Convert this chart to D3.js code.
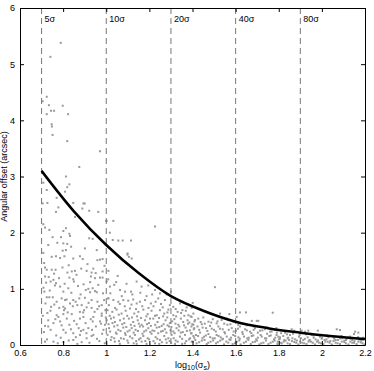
<!DOCTYPE html>
<html>
<head>
<meta charset="utf-8">
<script src="https://cdn.jsdelivr.net/npm/d3@7"></script>
<style>
  body { margin: 0; background: #fff; }
  text { font-family: "Liberation Sans", Arial, sans-serif; }
</style>
</head>
<body>
<div id="chart"></div>
<script>
// Significance markers (log10 sigma) and their labels
const sigmaLines = [0.7, 1.0, 1.3, 1.6, 1.9];
const sigmaLabels = ["5σ", "10σ", "20σ", "40σ", "80σ"];

// Ticks
const xTicks = [0.6, 0.8, 1, 1.2, 1.4, 1.6, 1.8, 2, 2.2];
const yTicks = [0, 1, 2, 3, 4, 5, 6];

// Fitted curve
const curveX = [0.7, 0.85, 1.0, 1.15, 1.3, 1.45, 1.6, 1.75, 1.9, 2.05, 2.2];
const curveY = [3.10, 2.38, 1.78, 1.28, 0.87, 0.61, 0.415, 0.30, 0.22, 0.155, 0.107];

// Scatter: high offset points and outliers
const ptsHigh = [
  [0.789,5.38],[0.741,5.13],[0.724,4.42],[0.705,4.34],[0.734,4.27],[0.798,4.26],[0.744,4.17],
  [0.758,4.17],[0.724,4.11],[0.823,4.11],[0.747,3.93],[0.748,3.89],[0.751,3.74],[0.819,3.63],
  [0.971,3.45],[0.875,3.17],[0.813,3.0],[0.708,2.89],[0.829,2.86],[0.819,2.81],[0.724,2.76],
  [0.809,2.73],[0.770,2.62],[0.705,2.52],[0.727,2.53],[0.847,2.53],[0.894,2.52],[0.90,2.52],
  [0.778,2.45],[0.889,2.43],[0.767,2.37],[0.921,2.39],[0.963,2.37],[0.855,2.28],[1.002,2.21],
  [1.033,2.21],[0.708,2.15],[0.716,2.09],[0.736,2.05],[0.813,2.08],[0.801,2.03],[0.829,1.98],
  [0.832,1.94],[0.790,1.92],[0.751,1.92],[0.921,1.90],[0.937,1.89],[1.017,2.0],[1.03,1.87],
  [1.076,1.86],[1.115,1.86],[0.773,1.82],[0.731,1.78],[0.801,1.81],[0.819,1.80],[0.837,1.75],
  [0.901,1.72],[0.956,1.69],[0.708,1.64],[0.813,1.69],[0.798,1.68],[1.098,1.61],[1.118,1.54],
  [0.999,2.21],[1.226,2.11],[1.056,1.86],[1.099,1.63],[1.105,1.57],[1.053,1.23],[1.009,1.17],
  [1.504,1.03],[1.401,0.75],[1.528,0.56],[1.571,0.55],[1.620,0.58],[1.648,0.58],[1.772,0.575],
  [1.675,0.43],[1.698,0.43],[1.705,0.43]
];

// Scatter: 5 to 10 sigma
const ptsA = [
  [0.747,1.57],[0.767,1.58],[0.786,1.55],[0.806,1.58],[0.847,1.54],[0.878,1.58],[0.891,1.53],
  [0.959,1.51],[0.971,1.52],[0.983,1.53],[0.716,1.38],[0.724,1.34],[0.747,1.34],[0.765,1.34],
  [0.820,1.29],[0.840,1.31],[0.855,1.32],[0.909,1.32],[0.932,1.29],[0.940,1.36],[0.983,1.31],
  [1.010,1.32],[0.716,1.22],[0.755,1.16],[0.829,1.20],[0.847,1.17],[0.929,1.22],[0.948,1.19],
  [0.971,1.20],[0.983,1.20],[0.742,1.13],[0.721,1.11],[0.767,1.10],[0.850,1.13],[0.925,1.12],
  [0.786,1.04],[0.824,1.01],[0.917,1.00],[0.937,1.01],[0.948,0.96],[0.905,0.98],[0.801,0.95],
  [0.881,0.90],[0.925,0.94],[0.956,0.94],[0.713,0.95],[0.724,0.85],[0.736,0.85],[0.752,0.85],
  [0.793,0.83],[0.809,0.80],[0.816,0.81],[0.847,0.80],[0.875,0.83],[0.901,0.84],[0.932,0.80],
  [0.959,0.77],[0.990,0.80],[1.010,0.83],[0.770,0.77],[0.832,0.74],[0.886,0.71],[0.979,0.71],
  [0.744,0.68],[0.801,0.68],[0.809,0.65],[0.866,0.71],[0.909,0.67],[0.932,0.66],[0.959,0.64],
  [0.878,0.59],[0.897,0.62],[0.979,0.56],[0.804,0.62],[0.770,0.53],[0.801,0.55],[0.840,0.55],
  [0.894,0.50],[0.940,0.50],[0.979,0.52],[0.731,0.44],[0.786,0.42],[0.878,0.47],[0.971,0.42],
  [0.778,0.50],[0.755,0.39],[0.863,0.37],[0.937,0.42],[0.994,0.36],[0.829,0.36],[0.716,0.34],
  [0.731,0.33],[0.847,0.21],[0.894,0.27],[0.917,0.30],[0.940,0.18],[0.878,0.18],[0.801,0.27],
  [0.987,0.27],[0.716,0.06],[0.755,0.06],[0.801,0.05],[0.847,0.09],[0.886,0.05],[0.909,0.12],
  [0.932,0.16],
  [0.712,1.46],[0.733,1.21],[0.758,1.27],[0.781,1.19],[0.797,1.38],[0.826,1.42],[0.862,1.25],
  [0.884,1.36],[0.913,1.44],[0.951,1.28],[0.992,1.41],[0.709,1.02],[0.738,0.97],[0.762,1.06],
  [0.807,1.09],[0.838,0.93],[0.869,1.05],[0.895,1.08],[0.963,1.07],[0.985,0.92],[0.718,0.74],
  [0.741,0.61],[0.759,0.72],[0.782,0.66],[0.821,0.58],[0.845,0.69],[0.858,0.77],[0.893,0.58],
  [0.918,0.75],[0.946,0.59],[0.967,0.69],[0.996,0.62],[0.706,0.52],[0.727,0.57],[0.764,0.46],
  [0.793,0.35],[0.817,0.47],[0.851,0.43],[0.872,0.30],[0.904,0.39],[0.928,0.46],[0.952,0.33],
  [0.976,0.38],[0.998,0.49],[0.711,0.23],[0.742,0.27],[0.768,0.17],[0.789,0.13],[0.812,0.22],
  [0.836,0.28],[0.859,0.14],[0.883,0.25],[0.908,0.21],[0.934,0.27],[0.957,0.11],[0.981,0.20],
  [0.725,0.10],[0.775,0.03],[0.826,0.08],[0.866,0.02],[0.922,0.04],[0.968,0.07],[0.993,0.03]
];

// Scatter: 10 to 25 sigma
const ptsB = [
  [1.002,1.13],[1.017,1.04],[1.037,1.07],[1.064,0.98],[1.087,0.95],[1.115,0.95],[1.141,1.13],
  [1.164,1.04],[1.195,1.06],[1.226,0.98],[1.249,0.92],[1.28,0.90],[1.30,0.95],
  [1.009,0.83],[1.033,0.80],[1.056,0.77],[1.079,0.80],[1.102,0.79],[1.125,0.81],[1.141,0.74],
  [1.156,0.77],[1.180,0.80],[1.207,0.74],[1.229,0.77],[1.254,0.73],[1.272,0.80],[1.295,0.71],
  [1.311,0.68],[1.342,0.74],[1.373,0.67],[1.396,0.66],
  [1.006,0.62],[1.028,0.59],[1.048,0.63],[1.071,0.56],[1.090,0.61],[1.110,0.65],[1.130,0.56],
  [1.149,0.59],[1.172,0.63],[1.192,0.55],[1.210,0.61],[1.234,0.53],[1.249,0.62],[1.269,0.56],
  [1.288,0.63],[1.311,0.53],[1.331,0.59],[1.353,0.62],[1.381,0.53],[1.404,0.56],
  [1.002,0.44],[1.022,0.47],[1.040,0.41],[1.064,0.44],[1.084,0.39],[1.105,0.47],[1.125,0.41],
  [1.146,0.44],[1.164,0.36],[1.180,0.44],[1.198,0.39],[1.218,0.47],[1.238,0.41],[1.257,0.34],
  [1.275,0.44],[1.295,0.39],[1.316,0.46],[1.334,0.36],[1.357,0.41],[1.377,0.44],[1.399,0.37],
  [1.013,0.30],[1.037,0.33],[1.056,0.27],[1.079,0.31],[1.099,0.24],[1.118,0.30],[1.136,0.27],
  [1.156,0.33],[1.176,0.24],[1.195,0.30],[1.214,0.26],[1.234,0.31],[1.254,0.24],[1.272,0.28],
  [1.291,0.33],[1.311,0.24],[1.326,0.30],[1.346,0.22],[1.368,0.31],[1.388,0.26],[1.408,0.30],
  [1.006,0.18],[1.025,0.14],[1.048,0.20],[1.068,0.12],[1.090,0.18],[1.110,0.15],[1.133,0.18],
  [1.152,0.10],[1.172,0.16],[1.192,0.12],[1.210,0.20],[1.229,0.14],[1.249,0.09],[1.269,0.16],
  [1.288,0.12],[1.303,0.18],[1.322,0.08],[1.342,0.15],[1.365,0.18],[1.384,0.10],[1.404,0.16],
  [1.040,0.06],[1.102,0.04],[1.141,0.02],[1.164,0.06],[1.226,0.03],[1.280,0.04],[1.319,0.02],
  [1.365,0.03],[1.396,0.06],
  [1.019,0.92],[1.046,1.12],[1.072,0.87],[1.094,1.09],[1.121,0.90],[1.158,0.93],[1.187,0.87],
  [1.213,0.90],[1.241,0.83],[1.012,0.71],[1.041,0.66],[1.063,0.73],[1.086,0.69],[1.117,0.72],
  [1.138,0.64],[1.167,0.69],[1.196,0.66],[1.219,0.69],[1.262,0.67],[1.284,0.58],[1.322,0.64],
  [1.347,0.57],[1.369,0.61],[1.391,0.51],[1.016,0.52],[1.035,0.49],[1.058,0.54],[1.081,0.47],
  [1.097,0.52],[1.119,0.49],[1.143,0.51],[1.161,0.48],[1.186,0.51],[1.203,0.47],[1.226,0.52],
  [1.245,0.48],[1.264,0.51],[1.283,0.49],[1.306,0.42],[1.324,0.51],[1.346,0.47],[1.362,0.52],
  [1.386,0.40],[1.011,0.37],[1.029,0.39],[1.052,0.35],[1.074,0.37],[1.093,0.32],[1.114,0.36],
  [1.131,0.34],[1.151,0.38],[1.171,0.33],[1.189,0.37],[1.207,0.34],[1.227,0.36],[1.246,0.32],
  [1.266,0.37],[1.284,0.35],[1.302,0.32],[1.321,0.38],[1.339,0.33],[1.361,0.35],[1.379,0.38],
  [1.395,0.33],[1.018,0.24],[1.045,0.22],[1.066,0.25],[1.087,0.21],[1.108,0.26],[1.127,0.22],
  [1.147,0.25],[1.168,0.20],[1.185,0.26],[1.204,0.23],[1.223,0.25],[1.241,0.21],[1.262,0.25],
  [1.279,0.22],[1.298,0.26],[1.317,0.21],[1.336,0.26],[1.355,0.23],[1.374,0.25],[1.393,0.21],
  [1.021,0.09],[1.037,0.12],[1.059,0.07],[1.081,0.11],[1.098,0.08],[1.121,0.12],[1.139,0.07],
  [1.159,0.12],[1.181,0.07],[1.199,0.10],[1.219,0.07],[1.237,0.11],[1.258,0.05],[1.276,0.10],
  [1.294,0.07],[1.313,0.12],[1.331,0.06],[1.352,0.11],[1.371,0.07],[1.389,0.12],[1.063,0.02],
  [1.127,0.03],[1.187,0.02],[1.246,0.02],[1.301,0.04],[1.352,0.02]
];

// Scatter: 25 to 60 sigma
const ptsC = [
  [1.396,0.50],[1.412,0.445],[1.427,0.47],[1.450,0.49],[1.474,0.415],[1.494,0.46],[1.512,0.385],
  [1.535,0.445],[1.559,0.47],[1.589,0.415],[1.605,0.50],[1.628,0.385],
  [1.404,0.36],[1.423,0.33],[1.443,0.37],[1.463,0.30],[1.481,0.34],[1.500,0.27],[1.520,0.33],
  [1.540,0.28],[1.562,0.36],[1.582,0.30],[1.602,0.255],[1.620,0.33],[1.644,0.28],[1.667,0.237],
  [1.690,0.30],[1.713,0.255],[1.736,0.28],[1.760,0.237],[1.783,0.267],
  [1.396,0.207],[1.416,0.178],[1.435,0.22],[1.453,0.148],[1.474,0.195],[1.494,0.118],[1.512,0.178],
  [1.531,0.136],[1.551,0.207],[1.571,0.10],[1.589,0.178],[1.613,0.136],[1.633,0.195],[1.654,0.118],
  [1.675,0.16],[1.695,0.10],[1.716,0.178],[1.736,0.118],[1.756,0.16],[1.778,0.10],[1.798,0.148],
  [1.401,0.059],[1.419,0.029],[1.443,0.077],[1.466,0.017],[1.484,0.059],[1.509,0.029],[1.528,0.077],
  [1.546,0.01],[1.566,0.041],[1.586,0.017],[1.605,0.059],[1.623,0.01],[1.648,0.059],[1.670,0.017],
  [1.690,0.059],[1.710,0.01],[1.729,0.041],[1.752,0.017],[1.772,0.059],[1.794,0.017],
  [1.409,0.42],[1.438,0.41],[1.457,0.38],[1.487,0.40],[1.516,0.42],[1.547,0.38],[1.576,0.37],
  [1.612,0.36],[1.651,0.35],[1.683,0.33],[1.722,0.32],[1.748,0.31],[1.789,0.30],[1.406,0.28],
  [1.431,0.27],[1.447,0.31],[1.469,0.25],[1.489,0.29],[1.508,0.24],[1.527,0.29],[1.548,0.23],
  [1.568,0.27],[1.591,0.24],[1.611,0.29],[1.631,0.23],[1.652,0.26],[1.673,0.21],[1.684,0.27],
  [1.703,0.22],[1.724,0.26],[1.746,0.20],[1.767,0.24],[1.791,0.22],[1.408,0.13],[1.426,0.16],
  [1.446,0.12],[1.462,0.17],[1.482,0.14],[1.503,0.12],[1.521,0.16],[1.541,0.11],[1.559,0.15],
  [1.579,0.13],[1.598,0.16],[1.619,0.11],[1.639,0.15],[1.661,0.13],[1.682,0.17],[1.703,0.13],
  [1.721,0.15],[1.742,0.12],[1.763,0.17],[1.784,0.13],[1.413,0.09],[1.431,0.05],[1.456,0.09],
  [1.473,0.04],[1.496,0.08],[1.517,0.05],[1.538,0.10],[1.557,0.06],[1.576,0.09],[1.597,0.03],
  [1.617,0.08],[1.638,0.04],[1.659,0.09],[1.679,0.05],[1.699,0.08],[1.719,0.03],[1.741,0.08],
  [1.762,0.04],[1.781,0.08]
];

// Scatter: 60 to 160 sigma
const ptsD = [
  [1.860,0.28],[1.872,0.255],[1.906,0.255],[1.922,0.237],[1.937,0.255],[1.981,0.255],[2.069,0.28],
  [2.084,0.267],[2.154,0.237],[2.149,0.195],[2.169,0.22],[1.829,0.22],
  [1.790,0.178],[1.806,0.136],[1.821,0.16],[1.841,0.118],[1.852,0.178],[1.875,0.10],[1.894,0.148],
  [1.914,0.089],[1.934,0.136],[1.953,0.178],[1.971,0.10],[1.991,0.148],[2.012,0.089],[2.030,0.136],
  [2.046,0.16],[2.064,0.089],[2.084,0.118],[2.104,0.077],[2.123,0.136],[2.141,0.089],[2.161,0.118],
  [2.182,0.077],
  [1.795,0.059],[1.814,0.029],[1.832,0.077],[1.852,0.017],[1.872,0.053],[1.891,0.01],[1.909,0.041],
  [1.929,0.017],[1.950,0.059],[1.968,0.01],[1.987,0.041],[2.007,0.017],[2.027,0.059],[2.046,0.01],
  [2.064,0.041],[2.084,0.017],[2.104,0.053],[2.123,0.01],[2.141,0.041],[2.161,0.017],[2.180,0.047],
  [2.197,0.01],[1.801,0.10],[1.848,0.089],[1.940,0.077],[1.999,0.112],[2.058,0.112],[2.115,0.112],
  [2.177,0.10],
  [1.811,0.21],[1.838,0.19],[1.866,0.20],[1.897,0.18],[1.927,0.19],[1.961,0.17],[1.994,0.18],
  [2.022,0.17],[2.053,0.15],[2.091,0.16],[2.131,0.15],[2.168,0.14],[2.192,0.13],[1.805,0.11],
  [1.826,0.09],[1.844,0.13],[1.863,0.12],[1.884,0.08],[1.903,0.12],[1.921,0.11],[1.944,0.09],
  [1.962,0.13],[1.982,0.08],[2.001,0.13],[2.021,0.10],[2.039,0.07],[2.056,0.13],[2.075,0.09],
  [2.094,0.12],[2.112,0.09],[2.133,0.11],[2.151,0.07],[2.172,0.10],[2.189,0.09],[1.808,0.04],
  [1.823,0.06],[1.841,0.03],[1.861,0.07],[1.881,0.04],[1.899,0.06],[1.918,0.03],[1.938,0.06],
  [1.958,0.04],[1.977,0.06],[1.996,0.03],[2.016,0.06],[2.036,0.04],[2.054,0.07],[2.073,0.03],
  [2.092,0.06],[2.111,0.03],[2.132,0.06],[2.149,0.04],[2.169,0.06],[2.188,0.03]
];

const points = ptsHigh.concat(ptsA, ptsB, ptsC, ptsD);

// Layout
const W = 374, H = 371;
const margin = { top: 8, right: 9, bottom: 26, left: 20 };
const width = W - margin.left - margin.right;
const height = H - margin.top - margin.bottom;

const svg = d3.select("#chart")
  .append("svg")
  .attr("width", W)
  .attr("height", H)
  .append("g")
  .attr("transform", `translate(${margin.left},${margin.top})`);

const x = d3.scaleLinear().domain([0.6, 2.2]).range([0, width]);
const y = d3.scaleLinear().domain([0, 6]).range([height, 0]);

// Scatter points
svg.append("g")
  .selectAll("rect")
  .data(points)
  .enter()
  .append("rect")
  .attr("x", d => x(d[0]) - 1)
  .attr("y", d => y(d[1]) - 1)
  .attr("width", 2)
  .attr("height", 2)
  .attr("fill", "#9a9a9a");

// Dashed sigma lines
svg.append("g")
  .selectAll("line")
  .data(sigmaLines)
  .enter()
  .append("line")
  .attr("x1", d => x(d))
  .attr("x2", d => x(d))
  .attr("y1", 0)
  .attr("y2", height)
  .attr("stroke", "#777")
  .attr("stroke-width", 1)
  .attr("stroke-dasharray", "6,4");

svg.append("g")
  .selectAll("text")
  .data(sigmaLines)
  .enter()
  .append("text")
  .attr("x", d => x(d) + 3)
  .attr("y", 14)
  .attr("font-size", 9)
  .text((d, i) => sigmaLabels[i]);

// Curve
const line = d3.line()
  .x(d => x(d[0]))
  .y(d => y(d[1]))
  .curve(d3.curveCatmullRom.alpha(0.5));

svg.append("path")
  .datum(curveX.map((v, i) => [v, curveY[i]]))
  .attr("fill", "none")
  .attr("stroke", "#000")
  .attr("stroke-width", 2.5)
  .attr("d", line);

// Axes, matlab style ticks pointing inward on all sides
const tickLen = 4;
const fmt = d => String(+d.toFixed(1));
const styleAxis = g => {
  g.select(".domain").attr("stroke", "#000");
  g.selectAll(".tick line").attr("stroke", "#000");
  g.selectAll("text").attr("font-size", 9).attr("fill", "#000");
};

svg.append("g")
  .attr("transform", `translate(0,${height})`)
  .call(d3.axisBottom(x).tickValues(xTicks).tickSize(-tickLen).tickSizeOuter(0).tickPadding(5)
    .tickFormat(fmt))
  .call(styleAxis);

svg.append("g")
  .call(d3.axisTop(x).tickValues(xTicks).tickSize(-tickLen).tickSizeOuter(0).tickFormat(""))
  .call(styleAxis);

svg.append("g")
  .call(d3.axisLeft(y).tickValues(yTicks).tickSize(-tickLen).tickSizeOuter(0).tickPadding(5)
    .tickFormat(fmt))
  .call(styleAxis);

svg.append("g")
  .attr("transform", `translate(${width},0)`)
  .call(d3.axisRight(y).tickValues(yTicks).tickSize(-tickLen).tickSizeOuter(0).tickFormat(""))
  .call(styleAxis);

// Axis labels
const xLabel = svg.append("text")
  .attr("x", width / 2)
  .attr("y", height + 23)
  .attr("text-anchor", "middle")
  .attr("font-size", 9);
xLabel.append("tspan").text("log");
xLabel.append("tspan").attr("font-size", 7).attr("dy", 2).text("10");
xLabel.append("tspan").attr("dy", -2).text("(σ");
xLabel.append("tspan").attr("font-size", 7).attr("dy", 2).text("s");
xLabel.append("tspan").attr("dy", -2).text(")");

svg.append("text")
  .attr("transform", `translate(${-13},${height / 2}) rotate(-90)`)
  .attr("text-anchor", "middle")
  .attr("font-size", 9)
  .text("Angular offset (arcsec)");
</script>
</body>
</html>
